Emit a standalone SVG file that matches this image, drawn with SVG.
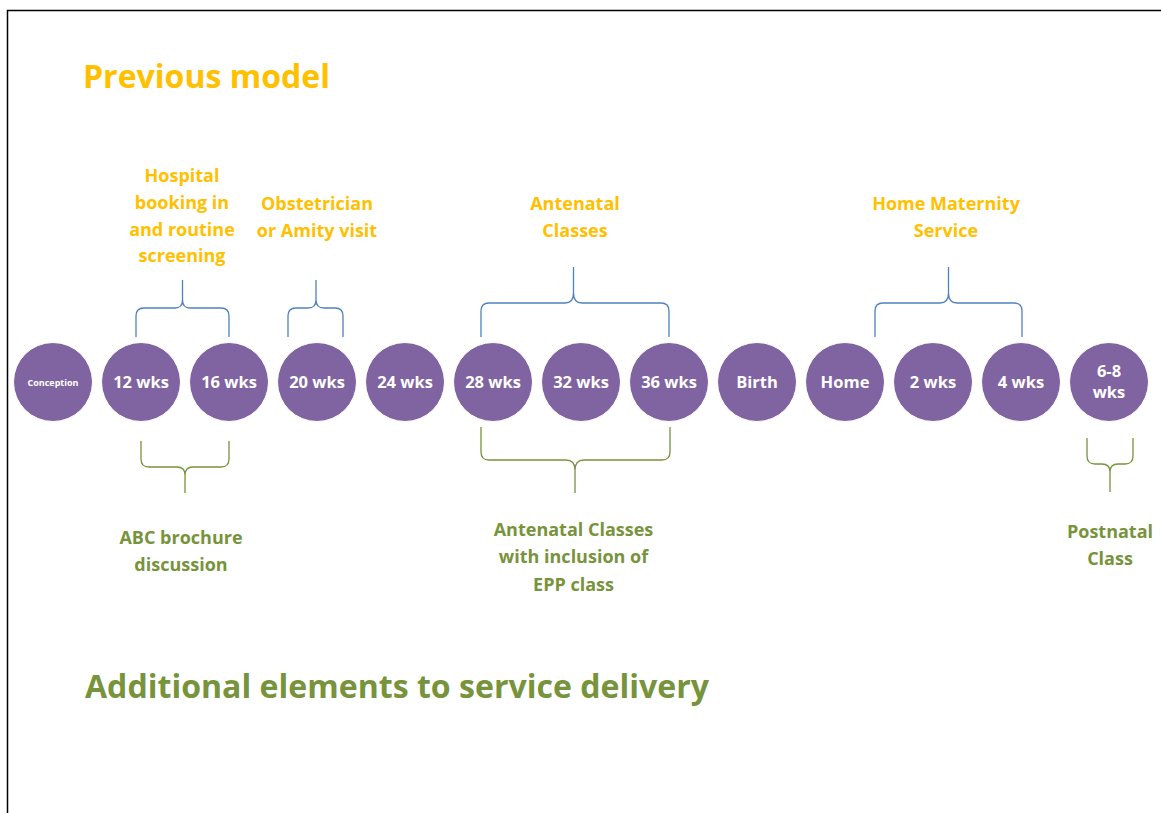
<svg xmlns="http://www.w3.org/2000/svg" width="1161" height="813" viewBox="0 0 1161 813">
<style>
.bg{fill:#fff}
.frame{fill:none;stroke:#000;stroke-width:1.5}
.node circle{fill:#8064A2;stroke:#fff;stroke-width:1}
.node text{fill:#fff;font-family:"Open Sans","Liberation Sans",sans-serif;font-weight:bold;font-size:16.5px;text-anchor:middle}
.node text.small{font-size:9px}
.bb{fill:none;stroke:#4F81BD;stroke-width:1.3}
.gb{fill:none;stroke:#77933C;stroke-width:1.3}
.y{fill:#FFC000;font-family:"Open Sans","Liberation Sans",sans-serif;font-weight:bold;font-size:18px;text-anchor:middle}
.g{fill:#77933C;font-family:"Open Sans","Liberation Sans",sans-serif;font-weight:bold;font-size:18px;text-anchor:middle}
.h{font-family:"Open Sans","Liberation Sans",sans-serif;font-weight:bold;font-size:32px}
</style>
<rect class="bg" x="0" y="0" width="1161" height="813"/>
<path class="frame" d="M7.5,813 L7.5,10.5 L1161,10.5"/>
<text class="h" x="83" y="88" fill="#FFC000" textLength="247" lengthAdjust="spacingAndGlyphs">Previous model</text>
<text class="h" x="85" y="698" fill="#77933C" textLength="624" lengthAdjust="spacingAndGlyphs">Additional elements to service delivery</text>

<g id="connectors">
<path class="bb" d="M136,337 L136,316 Q136,308 144,308 L175,308 Q182.5,308 182.5,300 L182.5,280 M229,337 L229,316 Q229,308 221,308 L190,308 Q182.5,308 182.5,300"/>
<path class="bb" d="M288,337 L288,316 Q288,308 296,308 L308,308 Q316,308 316,300 L316,280 M343,337 L343,316 Q343,308 335,308 L324,308 Q316,308 316,300"/>
<path class="bb" d="M481,337 L481,311 Q481,303 489,303 L565,303 Q573.5,303 573.5,293 L573.5,267 M669,337 L669,311 Q669,303 661,303 L582,303 Q573.5,303 573.5,293"/>
<path class="bb" d="M875,337 L875,311 Q875,303 883,303 L940,303 Q948.5,303 948.5,293 L948.5,267 M1022,337 L1022,311 Q1022,303 1014,303 L957,303 Q948.5,303 948.5,293"/>
<path class="gb" d="M141,441 L141,459 Q141,467 149,467 L177,467 Q185,467 185,475 L185,493 M229,441 L229,459 Q229,467 221,467 L193,467 Q185,467 185,475"/>
<path class="gb" d="M481,427 L481,452 Q481,460 489,460 L566,460 Q575,460 575,470 L575,493 M670,427 L670,452 Q670,460 662,460 L584,460 Q575,460 575,470"/>
<path class="gb" d="M1087,438 L1087,456 Q1087,464 1095,464 L1102,464 Q1110,464 1110,472 L1110,492 M1133,438 L1133,456 Q1133,464 1125,464 L1118,464 Q1110,464 1110,472"/>
</g>

<g id="n-conception" class="node"><circle cx="53" cy="382" r="39.5"/><text class="small" x="53" y="385.5">Conception</text></g>
<g id="n-12" class="node"><circle cx="141" cy="382" r="39.5"/><text x="141" y="388">12 wks</text></g>
<g id="n-16" class="node"><circle cx="229" cy="382" r="39.5"/><text x="229" y="388">16 wks</text></g>
<g id="n-20" class="node"><circle cx="317" cy="382" r="39.5"/><text x="317" y="388">20 wks</text></g>
<g id="n-24" class="node"><circle cx="405" cy="382" r="39.5"/><text x="405" y="388">24 wks</text></g>
<g id="n-28" class="node"><circle cx="493" cy="382" r="39.5"/><text x="493" y="388">28 wks</text></g>
<g id="n-32" class="node"><circle cx="581" cy="382" r="39.5"/><text x="581" y="388">32 wks</text></g>
<g id="n-36" class="node"><circle cx="669" cy="382" r="39.5"/><text x="669" y="388">36 wks</text></g>
<g id="n-birth" class="node"><circle cx="757" cy="382" r="39.5"/><text x="757" y="388">Birth</text></g>
<g id="n-home" class="node"><circle cx="845" cy="382" r="39.5"/><text x="845" y="388">Home</text></g>
<g id="n-2" class="node"><circle cx="933" cy="382" r="39.5"/><text x="933" y="388">2 wks</text></g>
<g id="n-4" class="node"><circle cx="1021" cy="382" r="39.5"/><text x="1021" y="388">4 wks</text></g>
<g id="n-68" class="node"><circle cx="1109" cy="382" r="39.5"/><text x="1109" y="377">6-8</text><text x="1109" y="398">wks</text></g>

<g id="l-hospital">
<text class="y" x="182" y="182">Hospital</text>
<text class="y" x="182" y="209">booking in</text>
<text class="y" x="182" y="236">and routine</text>
<text class="y" x="182" y="262">screening</text>
</g>
<g id="l-obstetrician">
<text class="y" x="317" y="210">Obstetrician</text>
<text class="y" x="317" y="237">or Amity visit</text>
</g>
<g id="l-antenatal">
<text class="y" x="575" y="210">Antenatal</text>
<text class="y" x="575" y="237">Classes</text>
</g>
<g id="l-home">
<text class="y" x="946" y="210">Home Maternity</text>
<text class="y" x="946" y="237">Service</text>
</g>
<g id="l-abc">
<text class="g" x="181" y="544">ABC brochure</text>
<text class="g" x="181" y="571">discussion</text>
</g>
<g id="l-epp">
<text class="g" x="573.5" y="536">Antenatal Classes</text>
<text class="g" x="573.5" y="563">with inclusion of</text>
<text class="g" x="573.5" y="591">EPP class</text>
</g>
<g id="l-postnatal">
<text class="g" x="1110" y="538">Postnatal</text>
<text class="g" x="1110" y="565">Class</text>
</g>
</svg>
